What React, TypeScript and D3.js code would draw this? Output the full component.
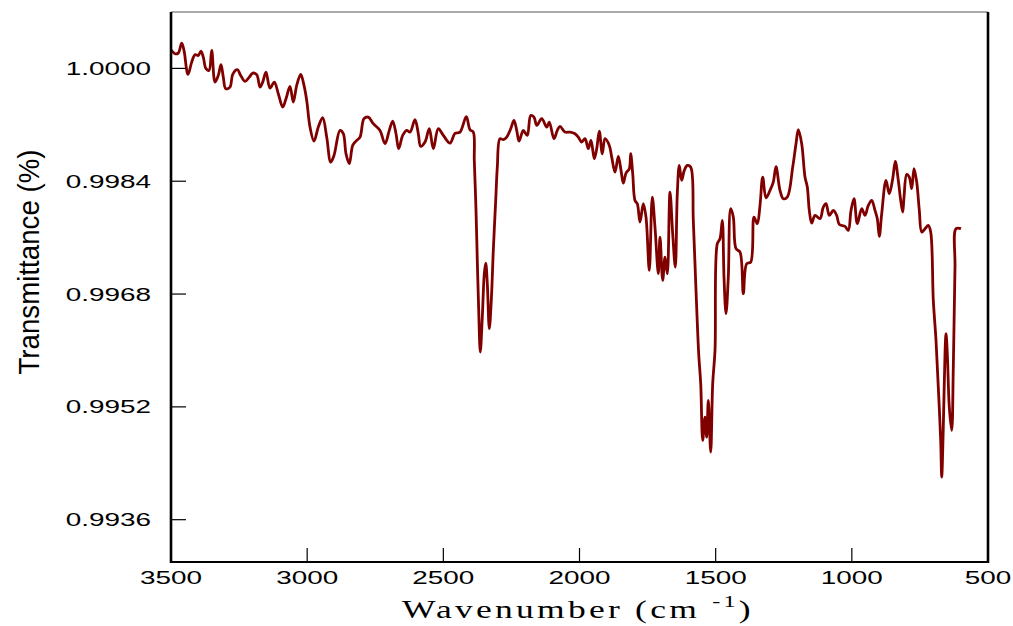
import React from "react";
import * as d3 from "d3";

const wavenumber: number[] = [
  3500, 3485.3, 3473.2, 3460.7, 3452.3, 3437.6, 3424.0, 3411.9, 3399.8, 3389.8,
  3381.4, 3371.5, 3360.5, 3350.5, 3338.4, 3326.3, 3316.4, 3308.0, 3299.1, 3283.4,
  3273.4, 3256.5, 3244.1, 3228.3, 3212.5, 3200.0, 3185.3, 3173.2, 3163.3, 3151.2,
  3136.5, 3120.7, 3106.0, 3089.8, 3077.7, 3063.0, 3050.9, 3038.4, 3023.7, 3011.6,
  3001.7, 2989.6, 2974.9, 2959.1, 2943.0, 2928.3, 2913.6, 2901.5, 2879.4, 2867.3,
  2857.4, 2845.3, 2832.8, 2820.7, 2806.0, 2791.3, 2775.5, 2757.2, 2732.6, 2714.2,
  2698.4, 2685.9, 2673.8, 2663.9, 2649.2, 2634.5, 2622.4, 2604.0, 2591.9, 2583.1,
  2567.3, 2551.5, 2536.8, 2518.5, 2500.1, 2475.5, 2457.2, 2438.8, 2415.7, 2402.1,
  2390.0, 2386.3, 2380.0, 2375.3, 2370.1, 2364.3, 2356.9, 2349.6, 2344.4, 2338.5,
  2331.2, 2323.9, 2316.5, 2307.7, 2301.8, 2291.9, 2279.8, 2267.3, 2252.6, 2240.5,
  2230.6, 2222.1, 2212.2, 2206.4, 2191.7, 2179.2, 2167.1, 2157.1, 2138.8, 2120.4,
  2110.9, 2093.6, 2081.5, 2071.6, 2053.2, 2034.9, 2016.5, 2004.4, 1991.9, 1979.8,
  1967.7, 1957.8, 1945.6, 1936.8, 1927.3, 1916.3, 1906.4, 1890.6, 1881.7, 1869.6,
  1857.5, 1847.6, 1839.2, 1829.2, 1817.1, 1812.0, 1804.6, 1796.2, 1787.7, 1777.8,
  1765.7, 1755.8, 1743.7, 1732.7, 1722.8, 1710.6, 1704.4, 1694.5, 1686.0, 1677.6,
  1667.7, 1657.8, 1648.2, 1640.9, 1633.5, 1624.7, 1615.2, 1604.1, 1591.7, 1582.1,
  1572.2, 1562.3, 1554.9, 1547.6, 1539.2, 1532.9, 1527.0, 1518.2, 1510.9, 1502.4,
  1494.0, 1484.1, 1475.6, 1469.4, 1462.0, 1453.6, 1444.8, 1435.2, 1425.3, 1410.6,
  1398.5, 1386.1, 1371.3, 1359.2, 1347.1, 1337.2, 1327.3, 1315.2, 1300.5, 1288.4,
  1278.4, 1263.8, 1251.6, 1236.9, 1217.1, 1205.0, 1196.5, 1184.1, 1172.0, 1163.5,
  1156.2, 1147.3, 1135.2, 1116.9, 1104.8, 1094.8, 1082.7, 1068.0, 1055.6, 1046.0,
  1025.1, 1013.0, 1003.0, 992.0, 979.9, 963.7, 951.6, 939.5, 927.0, 914.9,
  906.5, 899.1, 890.3, 874.5, 862.4, 849.9, 840.4, 829.4, 820.5, 813.2,
  808.4, 798.5, 789.0, 780.1, 771.7, 761.8, 752.2, 743.4, 731.3, 719.2,
  710.4, 700.8, 690.9, 682.5, 673.7, 670.0, 664.1, 657.9, 654.2, 649.4,
  642.1, 633.3, 627.4, 621.2, 617.5, 599.1,
];

const transmittance: number[] = [
  1.000265, 1.000208, 1.000217, 1.000359, 1.000255, 0.999915, 1.000089, 1.000194, 1.000184, 1.000245,
  1.000160, 0.999996, 0.999972, 1.000255, 0.999806, 0.999901, 1.000052, 0.999877, 0.999712, 0.999735,
  0.999915, 0.999982, 0.999901, 0.999816, 0.999877, 0.999933, 0.999911, 0.999735, 0.999806, 0.999948,
  0.999721, 0.999806, 0.999641, 0.999451, 0.999570, 0.999745, 0.999522, 0.999759, 0.999915, 0.999759,
  0.999546, 0.999168, 0.998969, 0.999168, 0.999301, 0.999026, 0.998671, 0.998766, 0.999121, 0.999074,
  0.998790, 0.998649, 0.998908, 0.998969, 0.999026, 0.999287, 0.999309, 0.999216, 0.999121, 0.998932,
  0.999121, 0.999253, 0.999074, 0.998861, 0.999050, 0.999121, 0.999097, 0.999273, 0.999074, 0.998894,
  0.998955, 0.999145, 0.998861, 0.999145, 0.999050, 0.998941, 0.999078, 0.999097, 0.999315, 0.999131,
  0.999097, 0.998695, 0.997986, 0.997277, 0.996568, 0.995977, 0.996473, 0.997089, 0.997239, 0.996947,
  0.996309, 0.996710, 0.997419, 0.998128, 0.998600, 0.999003, 0.998989, 0.999026, 0.999145, 0.999263,
  0.999121, 0.998969, 0.999074, 0.999121, 0.999050, 0.999333, 0.999309, 0.999192, 0.999287, 0.999168,
  0.999238, 0.999003, 0.999121, 0.999178, 0.999097, 0.999097, 0.999074, 0.999026, 0.998955, 0.999003,
  0.998861, 0.998979, 0.998719, 0.998861, 0.999111, 0.998790, 0.999003, 0.998908, 0.998742, 0.998529,
  0.998752, 0.998554, 0.998373, 0.998515, 0.998578, 0.998790, 0.998507, 0.998128, 0.998081, 0.997820,
  0.998081, 0.997891, 0.997135, 0.998175, 0.997749, 0.997089, 0.997608, 0.996994, 0.997324, 0.997089,
  0.998246, 0.997656, 0.997182, 0.998223, 0.998624, 0.998412, 0.998554, 0.998624, 0.998600, 0.997844,
  0.996852, 0.995954, 0.995529, 0.994725, 0.995055, 0.994771, 0.995292, 0.994559, 0.995529, 0.996001,
  0.997514, 0.997585, 0.997844, 0.997040, 0.996521, 0.997040, 0.998010, 0.997891, 0.997443, 0.997395,
  0.996805, 0.997230, 0.997253, 0.997891, 0.997798, 0.998057, 0.998459, 0.998164, 0.998270, 0.998388,
  0.998606, 0.998270, 0.998152, 0.998175, 0.998600, 0.998932, 0.999131, 0.998932, 0.998459, 0.998317,
  0.997986, 0.997806, 0.997915, 0.997869, 0.998033, 0.998081, 0.997915, 0.997986, 0.997915, 0.997788,
  0.997759, 0.997703, 0.997986, 0.998152, 0.997798, 0.998010, 0.997915, 0.998057, 0.998128, 0.997986,
  0.997869, 0.997618, 0.997940, 0.998412, 0.998223, 0.998436, 0.998681, 0.998412, 0.998128, 0.997962,
  0.998175, 0.998497, 0.998459, 0.998294, 0.998578, 0.998388, 0.997986, 0.997679, 0.997727, 0.997774,
  0.997679, 0.996710, 0.996143, 0.995481, 0.994725, 0.994204, 0.994913, 0.995954, 0.996238, 0.995954,
  0.995197, 0.994866, 0.995764, 0.997182, 0.997727, 0.997727,
];

const xTicks: number[] = [3500, 3000, 2500, 2000, 1500, 1000, 500];
const yTicks: number[] = [1.0, 0.9984, 0.9968, 0.9952, 0.9936];
const xDomain: [number, number] = [3500, 500];
const yDomain: [number, number] = [0.993, 1.0008];

export default function App() {
  const W = 1013;
  const H = 626;
  const left = 171;
  const right = 988;
  const top = 12;
  const bottom = 562;

  const x = d3.scaleLinear().domain(xDomain).range([left, right]);
  const y = d3.scaleLinear().domain(yDomain).range([bottom, top]);

  const pts: [number, number][] = wavenumber.map((w, i) => [w, transmittance[i]]);
  const line = d3
    .line<[number, number]>()
    .curve(d3.curveCatmullRom.alpha(0.5))
    .x((d) => x(d[0]))
    .y((d) => y(d[1]));

  const tickFont = "'Liberation Sans', Arial, sans-serif";
  const sx = 1.55;

  return (
    <svg
      width={W}
      height={H}
      style={{ position: "absolute", left: 0, top: 0, background: "#fff" }}
    >
      <rect x={0} y={0} width={W} height={H} fill="#fff" />
      <path
        d={line(pts) || ""}
        fill="none"
        stroke="#800000"
        strokeWidth={2.8}
        strokeLinejoin="round"
      />
      {/* frame */}
      <line x1={left} x2={right} y1={top} y2={top} stroke="#555" strokeWidth={1} />
      <line x1={left} x2={left} y1={top} y2={bottom + 1} stroke="#000" strokeWidth={2.6} />
      <line x1={right} x2={right} y1={top} y2={bottom + 1} stroke="#000" strokeWidth={2.6} />
      <line x1={left} x2={right} y1={bottom} y2={bottom} stroke="#000" strokeWidth={2} />
      {/* y ticks */}
      {yTicks.map((t) => (
        <g key={"y" + t}>
          <line x1={left} x2={left + 15} y1={y(t)} y2={y(t)} stroke="#000" strokeWidth={1.2} />
          <text
            transform={`translate(151,${y(t) + 6.5}) scale(${sx},1)`}
            textAnchor="end"
            fontFamily={tickFont}
            fontSize={18}
            fill="#000"
          >
            {t.toFixed(4)}
          </text>
        </g>
      ))}
      {/* x ticks */}
      {xTicks.map((t) => (
        <g key={"x" + t}>
          <line x1={x(t)} x2={x(t)} y1={bottom} y2={bottom - 14} stroke="#000" strokeWidth={1.2} />
          <text
            transform={`translate(${x(t)},${bottom + 22}) scale(${sx},1)`}
            textAnchor="middle"
            fontFamily={tickFont}
            fontSize={18}
            fill="#000"
          >
            {t}
          </text>
        </g>
      ))}
      {/* y title */}
      <text
        transform={`translate(39,262) rotate(-90)`}
        textAnchor="middle"
        fontFamily={tickFont}
        fontSize={30}
        textLength={225}
        lengthAdjust="spacingAndGlyphs"
        fill="#000"
      >
        Transmittance (%)
      </text>
      {/* x title */}
      <text
        transform={`translate(578,618) scale(1.42,1)`}
        textAnchor="middle"
        fontFamily="'Liberation Serif', 'Times New Roman', serif"
        fontSize={25}
        letterSpacing={2.3}
        fill="#000"
      >
        Wavenumber (cm{" "}
        <tspan dy={-11} fontSize={17}>
          -1
        </tspan>
        <tspan dy={11}>)</tspan>
      </text>
    </svg>
  );
}
